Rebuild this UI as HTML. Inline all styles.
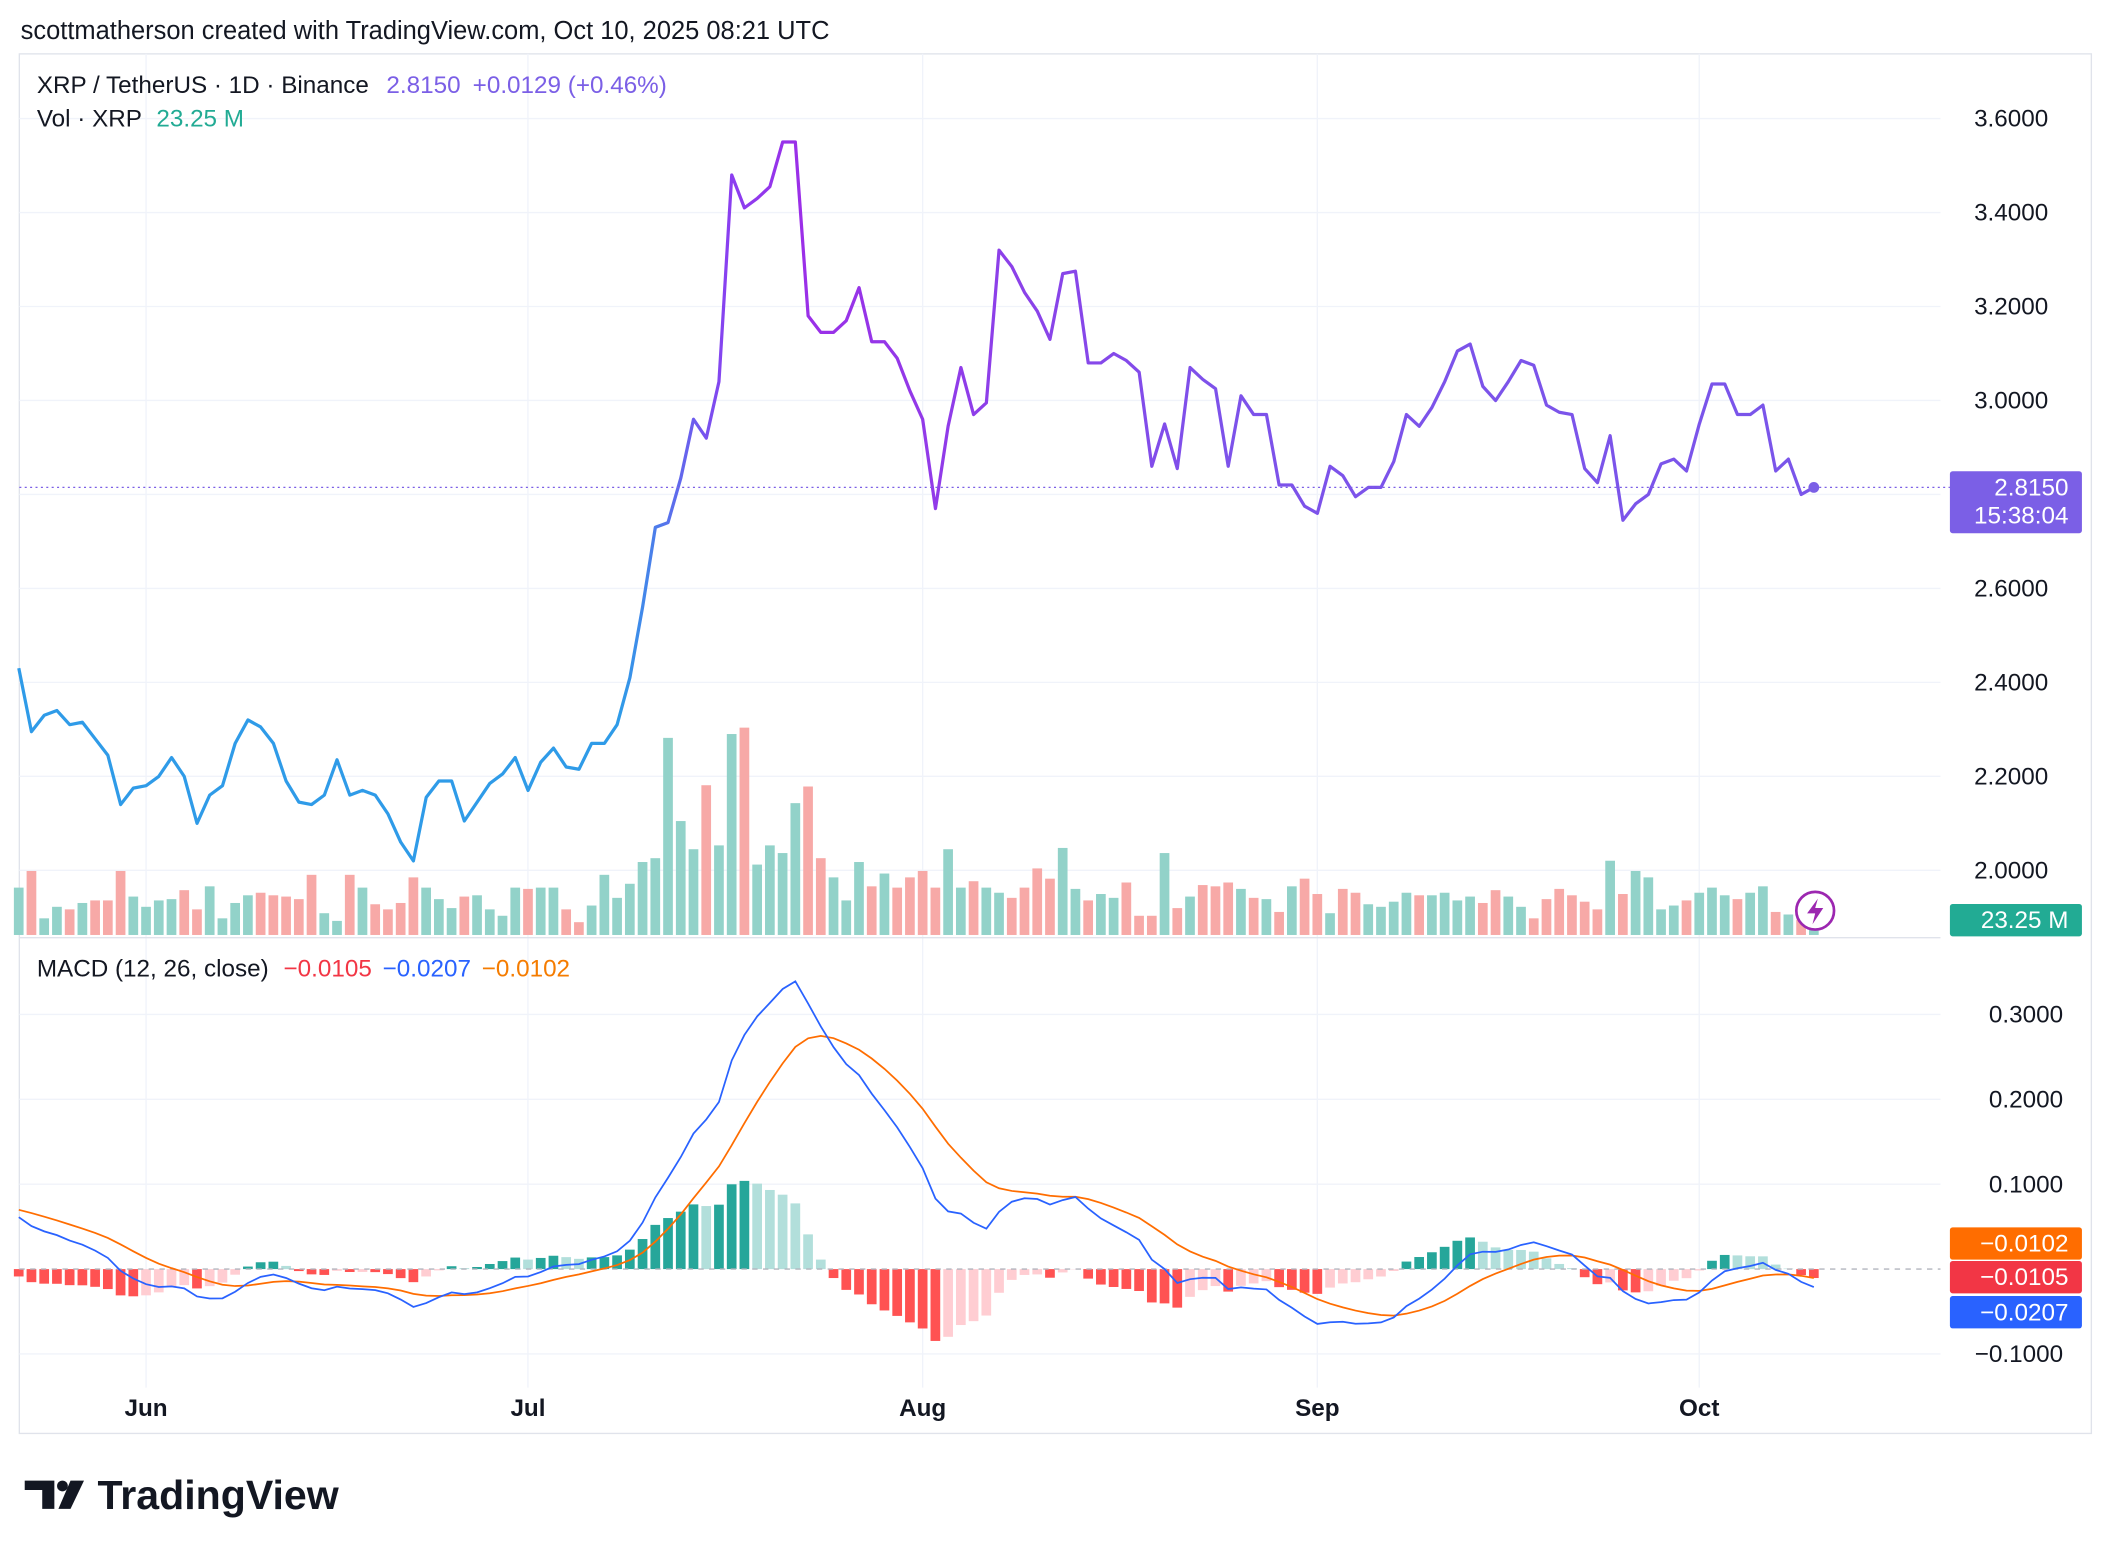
<!DOCTYPE html>
<html><head><meta charset="utf-8"><style>
html,body{margin:0;padding:0;background:#fff;}
svg{display:block;font-family:"Liberation Sans",sans-serif;}
</style></head><body>
<svg id="c" width="2108" height="1552" viewBox="0 0 1564 1152">
<defs>
<linearGradient id="pg" gradientUnits="userSpaceOnUse" x1="460" y1="0" x2="1350" y2="0">
<stop offset="0" stop-color="#2f9be8"/><stop offset="0.09" stop-color="#8a3ff0"/><stop offset="0.15" stop-color="#9b2fe8"/><stop offset="0.5" stop-color="#7d52ea"/><stop offset="1" stop-color="#7a55ea"/>
</linearGradient>
</defs>
<text x="15" y="29" font-size="18.9" fill="#131722">scottmatherson created with TradingView.com, Oct 10, 2025 08:21 UTC</text>
<rect x="14" y="40" width="1538" height="1024" fill="none" stroke="#e0e3eb"/>
<g id="grid"></g>
<g id="vol"></g>
<g id="macdg"></g>
<path id="price" fill="none" stroke="url(#pg)" stroke-width="2.4" stroke-linejoin="round"/>
<line x1="14" x2="1440" y1="696" y2="696" stroke="#e0e3eb"/>
<g id="labels"></g>
<text x="27" y="69" font-size="18" fill="#131722">XRP / TetherUS · 1D · Binance <tspan fill="#7b5fe6" dx="8">2.8150</tspan><tspan fill="#7b5fe6" dx="9">+0.0129 (+0.46%)</tspan></text>
<text x="27" y="94" font-size="18" fill="#131722">Vol · XRP <tspan fill="#22ab94" dx="6">23.25 M</tspan></text>
<text x="27" y="725" font-size="18" fill="#131722">MACD (12, 26, close) <tspan fill="#f23645" dx="6">−0.0105</tspan><tspan fill="#2962ff" dx="8">−0.0207</tspan><tspan fill="#f57c00" dx="8">−0.0102</tspan></text>
<g><circle cx="1347" cy="676" r="14" fill="#fff" stroke="#9c27b0" stroke-width="2"/><path d="M1349 667 L1341 678 L1347 678 L1345 686 L1353 674 L1347 674 Z" fill="#9c27b0"/></g>
<g><path d="M18 1099 H40 V1120 H31 V1106 H18 Z" fill="#131722"/><circle cx="46" cy="1103" r="4" fill="#131722"/><path d="M52 1099 H62 L52 1120 H43 Z" fill="#131722"/><text x="72" y="1120" font-size="30.5" font-weight="bold" fill="#131722">TradingView</text></g>
</svg>
<script>
const priceTicks=[3.6,3.4,3.2,3.0,2.8,2.6,2.4,2.2,2.0];
const macdTicks=[0.3,0.2,0.1,-0.1];
const monthLabels=["Jun","Jul","Aug","Sep","Oct"];
const monthIdx=[10,40,71,102,132];
const closes=[2.43,2.295,2.33,2.34,2.31,2.315,2.28,2.245,2.14,
2.175,2.18,2.20,2.24,2.20,2.10,2.16,2.18,2.27,2.32,2.305,2.27,2.19,2.145,2.14,2.16,2.235,2.16,2.17,2.16,2.12,2.06,2.02,2.155,2.19,2.19,2.105,2.145,2.185,2.205,2.24,2.17,
2.23,2.26,2.22,2.215,2.27,2.27,2.31,2.41,2.56,2.73,2.74,2.835,2.96,2.92,3.04,3.48,3.41,3.43,3.455,3.55,3.55,3.18,3.145,3.145,3.17,3.24,3.125,3.125,3.09,3.02,2.96,2.77,
2.945,3.07,2.97,2.995,3.32,3.285,3.23,3.19,3.13,3.27,3.275,3.08,3.08,3.10,3.085,3.06,2.86,2.95,2.855,3.07,3.045,3.025,2.86,3.01,2.97,2.97,2.82,2.82,2.775,2.76,
2.86,2.84,2.795,2.815,2.815,2.87,2.97,2.945,2.985,3.04,3.105,3.12,3.03,3.00,3.04,3.085,3.075,2.99,2.975,2.97,2.855,2.825,2.925,2.745,2.78,2.80,2.865,2.875,2.85,2.95,3.035,3.035,2.97,2.97,2.99,2.85,2.875,2.80,2.815];
const volumes=[37,50,13,22,20,25,27,27,50,30,22,27,28,35,20,38,13,25,31,33,31,30,28,47,17,11,47,37,24,20,25,45,37,28,21,30,31,20,15,37,36,37,37,20,10,23,47,29,40,57,60,154,89,67,117,70,157,162,55,70,64,103,116,60,45,27,57,38,48,37,45,50,37,67,37,42,37,33,29,37,52,44,68,36,27,32,29,41,15,15,64,21,30,39,38,41,36,29,28,18,38,44,32,17,36,33,24,22,26,33,31,31,33,27,30,25,35,30,22,13,28,36,31,26,20,58,32,50,45,20,23,27,33,37,31,28,33,38,18,16,12,8];
const ema12Seed=2.36, ema26Seed=2.30, signalSeed=0.072;
const NS="http://www.w3.org/2000/svg";
const DX=9.45, X0=1346-(closes.length-1)*DX;
const xOf=i=>X0+i*DX;
const yP=p=>88+(3.6-p)*348.75;
const yM=m=>942-m*630;
const yV=v=>694-v*0.95;
function mk(tag,attrs,parent){const e=document.createElementNS(NS,tag);for(const k in attrs)e.setAttribute(k,attrs[k]);parent.appendChild(e);return e;}
const grid=document.getElementById('grid'),labels=document.getElementById('labels');
priceTicks.forEach(t=>{const l=mk('line',{x1:14,x2:1440,y1:yP(t),y2:yP(t),stroke:'#f0f3fa'},grid);


const tx=mk('text',{x:1520,y:yP(t)+6,'font-size':18,'text-anchor':'end',fill:'#131722'},labels);tx.textContent=t.toFixed(4);

});
macdTicks.forEach(t=>{const l=mk('line',{x1:14,x2:1440,y1:yM(t),y2:yM(t),stroke:'#f0f3fa'},grid);


const tx=mk('text',{x:1531,y:yM(t)+6,'font-size':18,'text-anchor':'end',fill:'#131722'},labels);tx.textContent=(t<0?'−':'')+Math.abs(t).toFixed(4);

});
monthLabels.forEach((m,k)=>{const x=xOf(monthIdx[k]);const l=mk('line',{x1:x,x2:x,y1:40,y2:1030,stroke:'#f0f3fa'},grid);


const tx=mk('text',{x:x,y:1051,'font-size':18,'font-weight':'bold','text-anchor':'middle',fill:'#131722'},labels);tx.textContent=m;

});
const vg=document.getElementById('vol');
volumes.forEach((v,i)=>{const up=i==0?true:closes[i]>=closes[i-1];
const r=mk('rect',{x:xOf(i)-3.6,y:yV(v),width:7.2,height:694-yV(v),fill:up?'#92d2c9':'#f7a9a7'},vg);

});
document.getElementById('price').setAttribute('d',closes.map((p,i)=>(i?'L':'M')+xOf(i).toFixed(1)+' '+yP(p).toFixed(1)).join(' '));
let e12=ema12Seed,e26=ema26Seed,sig=signalSeed;const a12=2/13,a26=2/27,a9=2/10;
const macd=[],signal=[],hist=[];
closes.forEach(p=>{e12=p*a12+e12*(1-a12);e26=p*a26+e26*(1-a26);const m=e12-e26;sig=m*a9+sig*(1-a9);macd.push(m);signal.push(sig);hist.push(m-sig);});
const mg=document.getElementById('macdg');
hist.forEach((h,i)=>{const prev=i?hist[i-1]:0;let c;
if(h>=0)c=h>=prev?'#26a69a':'#b2dfdb';else c=h<prev?'#ff5252':'#ffcdd2';
const y0=yM(0),y1=yM(h);
const r=mk('rect',{x:xOf(i)-3.6,y:Math.min(y0,y1),width:7.2,height:Math.abs(y1-y0),fill:c},mg);

});
const zl=mk('line',{x1:14,x2:1440,y1:yM(0),y2:yM(0),stroke:'#b2b5be','stroke-dasharray':'4 4'},mg);


const sl=mk('path',{d:signal.map((m,i)=>(i?'L':'M')+xOf(i).toFixed(1)+' '+yM(m).toFixed(1)).join(' '),fill:'none',stroke:'#ff6d00','stroke-width':1.3},mg);


const ml=mk('path',{d:macd.map((m,i)=>(i?'L':'M')+xOf(i).toFixed(1)+' '+yM(m).toFixed(1)).join(' '),fill:'none',stroke:'#2962ff','stroke-width':1.3},mg);


const last=closes[closes.length-1];
const pl=mk('line',{x1:14,x2:1447,y1:yP(last),y2:yP(last),stroke:'#7b5fe6','stroke-dasharray':'1.5 2.5'},labels);


const dot=mk('circle',{cx:xOf(closes.length-1),cy:yP(last),r:4,fill:'#7b5fe6'},labels);


function box(y,h,fill,lines,name){const g=mk('g',{},labels);


mk('rect',{x:1447,y:y,width:98,height:h,fill:fill,rx:2},g);
lines.forEach((t,k)=>{const tx=mk('text',{x:1535,y:y+18+k*21,'font-size':18,'text-anchor':'end',fill:'#fff'},g);tx.textContent=t;});}
box(yP(last)-12,46,'#7b5fe6',[last.toFixed(4),'15:38:04'],'last-price-label');
box(671,24,'#22ab94',['23.25 M'],'volume-label');
box(yM(0)-31,24,'#ff6d00',['−0.0102'],'signal-value-label');
box(yM(0)-6,24,'#f23645',['−0.0105'],'histogram-value-label');
box(yM(0)+20,24,'#2962ff',['−0.0207'],'macd-value-label');
</script>
</body></html>
